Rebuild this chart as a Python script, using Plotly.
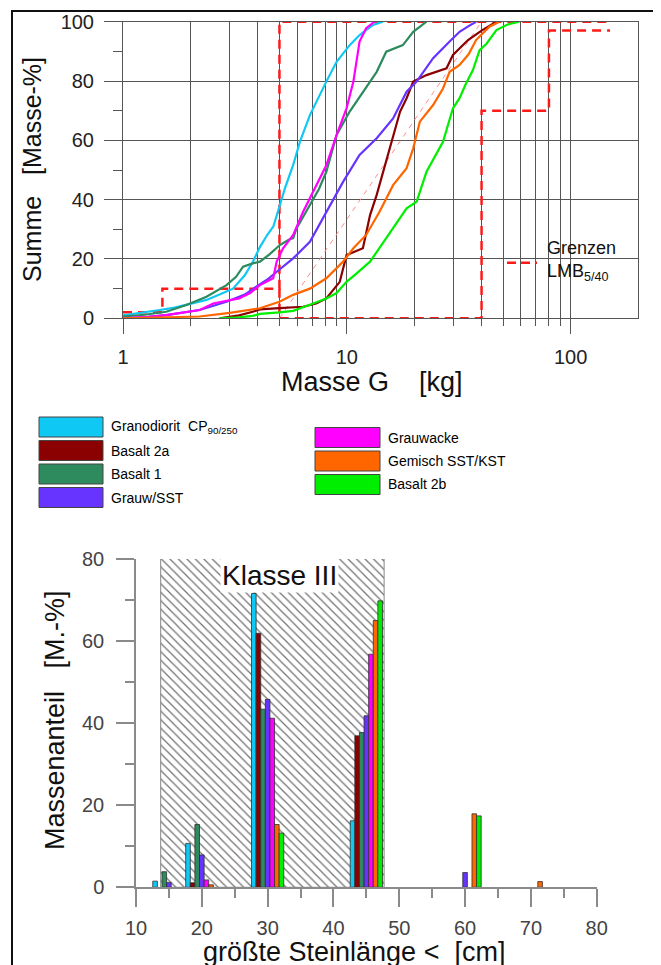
import numpy as np
import plotly.graph_objects as go

W, H = 661, 965
OFF = 8  # page body margin offset compensation
FONT = "Liberation Sans, Arial, sans-serif"
NARROW = "Liberation Sans Narrow, Arial Narrow, Liberation Sans, sans-serif"

# ---------------- data ----------------
SERIES = ["Granodiorit  CP<sub>90/250</sub>", "Basalt 2a", "Basalt 1", "Grauw/SST",
          "Grauwacke", "Gemisch SST/KST", "Basalt 2b"]
COLORS = ["#10C8F4", "#8B0000", "#2E8B5E", "#6633FF", "#FF00FF", "#FF6600", "#00EE00"]

# cumulative mass curves (top chart): mass G [kg] vs. Summe [Masse-%]
GRANODIORIT_X = [1.0, 1.2, 1.46, 1.7, 1.92, 2.36, 2.7, 3.1, 3.5, 3.8, 4.09, 4.4, 4.7, 5.02, 5.3,
                 5.76, 6.17, 6.84, 7.4, 8.1, 9.0, 10.3, 11.4, 13.1, 14.5]
GRANODIORIT_Y = [1.0, 1.8, 2.8, 3.6, 4.5, 6.2, 8.0, 10.0, 14.5, 19.0, 24.0, 28.0, 31.0, 38.0, 44.0,
                 51.7, 59.5, 68.5, 74.0, 79.8, 86.5, 92.1, 95.5, 98.9, 100]
BASALT2A_X = [2.7, 3.3, 3.8, 4.09, 5.0, 6.38, 7.3, 8.1, 9.3, 9.97, 11.8, 12.7, 13.6, 15.0, 16.1,
              17.3, 18.5, 19.8, 22.7, 27.9, 29.8, 34.8, 40.0, 46.6]
BASALT2A_Y = [0, 1.0, 2.2, 3.0, 3.4, 3.9, 5.0, 6.7, 12.3, 21.3, 23.6, 34.8, 41.6, 52.8, 60.7,
              69.7, 74.2, 79.8, 82.0, 84.3, 88.8, 93.8, 97.0, 100]
BASALT1_X = [1.0, 1.25, 1.56, 1.92, 2.36, 2.9, 3.2, 3.44, 3.8, 4.09, 4.5, 5.02, 5.5, 5.76, 5.96,
             6.84, 7.5, 8.1, 9.0, 10.3, 11.8, 13.6, 15.0, 17.8, 19.8, 22.7]
BASALT1_Y = [0.6, 1.2, 2.2, 4.5, 7.3, 11.2, 14.0, 17.4, 18.5, 19.1, 21.5, 24.7, 26.5, 27.0, 30.3,
             38.2, 43.5, 49.4, 61.8, 69.7, 76.4, 83.1, 89.9, 92.1, 96.6, 100]
GRAUWSST_X = [1.0, 1.3, 1.56, 2.2, 2.9, 3.5, 3.94, 4.4, 4.86, 5.76, 6.84, 8.1, 9.62, 11.4, 13.6,
              16.1, 18.5, 20.5, 24.3, 28.8, 31.9, 35.0, 37.8]
GRAUWSST_Y = [0, 0.5, 1.1, 2.8, 5.6, 8.0, 10.7, 13.0, 15.7, 20.2, 25.8, 35.9, 46.0, 55.1, 60.7,
              67.4, 76.4, 79.8, 87.7, 93.3, 96.6, 98.5, 100]
GRAUWACKE_X = [1.0, 1.3, 1.56, 1.9, 2.2, 2.53, 2.9, 3.3, 3.7, 4.09, 4.69, 4.86, 5.19, 5.76, 6.38,
               7.33, 8.11, 9.0, 9.97, 10.7, 11.05, 11.4, 12.2, 13.3]
GRAUWACKE_Y = [0, 0.5, 1.1, 2.0, 2.8, 5.0, 5.8, 6.7, 8.5, 11.2, 13.5, 19.1, 23.6, 28.1, 35.9,
               44.9, 51.7, 61.8, 70.8, 79.8, 86.5, 93.3, 97.8, 100]
GEMISCH_X = [1.0, 1.5, 2.2, 3.0, 3.8, 4.09, 5.0, 5.76, 6.84, 8.1, 9.62, 10.7, 12.2, 14.0, 16.1,
             18.5, 19.8, 21.2, 24.3, 26.9, 28.8, 31.9, 35.0, 37.8, 43.4, 48.0]
GEMISCH_Y = [0, 0.2, 0.6, 1.8, 3.0, 3.4, 5.6, 7.9, 10.0, 13.5, 19.1, 23.6, 28.1, 35.9, 44.9,
             50.6, 57.3, 66.3, 71.9, 77.5, 83.1, 85.4, 89.0, 93.8, 98.3, 100]
BASALT2B_X = [2.7, 3.3, 3.8, 4.09, 5.0, 5.76, 6.84, 8.1, 9.0, 9.97, 11.0, 12.7, 15.0, 18.5, 20.5,
              22.7, 26.9, 29.8, 31.9, 34.0, 36.6, 39.2, 42.0, 46.6, 52.0, 59.0]
BASALT2B_Y = [0, 0.3, 0.8, 1.5, 2.0, 2.5, 4.6, 6.7, 8.5, 12.3, 15.0, 19.1, 27.0, 37.1, 39.3,
              49.4, 59.5, 70.8, 74.2, 79.0, 83.7, 90.4, 92.5, 97.2, 99.0, 100]

CURVES_X = [GRANODIORIT_X, BASALT2A_X, BASALT1_X, GRAUWSST_X, GRAUWACKE_X, GEMISCH_X, BASALT2B_X]
CURVES_Y = [GRANODIORIT_Y, BASALT2A_Y, BASALT1_Y, GRAUWSST_Y, GRAUWACKE_Y, GEMISCH_Y, BASALT2B_Y]

# LMB 5/40 limits
LIMIT_UPPER_X = [1, 1.5, 1.5, 5, 5, 150]
LIMIT_UPPER_Y = [2, 2, 10, 10, 100, 100]
LIMIT_LOWER_X = [5, 5, 40, 40, 80, 80, 150]
LIMIT_LOWER_Y = [10, 0, 0, 70, 70, 97, 97]
LIMIT_BASE_X = [1, 1.5]
LIMIT_BASE_Y = [0, 0]
DIAG_X = [5, 40]
DIAG_Y = [0, 100]

# bar chart: größte Steinlänge < [cm] vs. Massenanteil [M.-%]
GROUP_X = [15, 20, 30, 45, 60, 70]
BAR_GRANODIORIT = [1.5, 10.7, 71.6, 16.2, None, None]
BAR_BASALT2A = [None, 1.1, 61.9, 36.9, None, None]
BAR_BASALT1 = [3.8, 15.3, 43.4, 37.7, None, None]
BAR_GRAUWSST = [1.2, 7.9, 45.8, 41.8, 3.6, None]
BAR_GRAUWACKE = [None, 1.8, 41.2, 56.8, None, None]
BAR_GEMISCH = [None, 0.6, 15.3, 65.0, 17.9, 1.4]
BAR_BASALT2B = [None, None, 13.2, 69.8, 17.4, None]
BARS = [BAR_GRANODIORIT, BAR_BASALT2A, BAR_BASALT1, BAR_GRAUWSST, BAR_GRAUWACKE, BAR_GEMISCH, BAR_BASALT2B]

KLASSE_RANGE = [13.75, 47.7]
KLASSE_TOP = 80.8
KLASSE_LABEL = "Klasse III"


def px(x):
    return (x - OFF) / W


def py(y):
    return 1 - (y - OFF) / H


fig = go.Figure()

# ---------------- top chart ----------------
red = dict(color="#FF1A1A", width=2.5, dash="9px,6px")
fig.add_trace(go.Scatter(x=DIAG_X, y=DIAG_Y, mode="lines", cliponaxis=False,
                         line=dict(color="#FF8C8C", width=1, dash="5px,5px"), xaxis="x", yaxis="y"))
for lx, ly in [(LIMIT_UPPER_X, LIMIT_UPPER_Y), (LIMIT_LOWER_X, LIMIT_LOWER_Y), (LIMIT_BASE_X, LIMIT_BASE_Y)]:
    fig.add_trace(go.Scatter(x=lx, y=ly, mode="lines", line=red, cliponaxis=False, xaxis="x", yaxis="y"))
for cx, cy, col in zip(CURVES_X, CURVES_Y, COLORS):
    fig.add_trace(go.Scatter(x=cx, y=cy, mode="lines", cliponaxis=False,
                             line=dict(color=col, width=2.2), xaxis="x", yaxis="y"))

# ---------------- bottom chart ----------------
fig.add_trace(go.Bar(x=[(KLASSE_RANGE[0] + KLASSE_RANGE[1]) / 2], y=[KLASSE_TOP],
                     width=[KLASSE_RANGE[1] - KLASSE_RANGE[0]],
                     marker=dict(color="white",
                                 pattern=dict(shape="\\", fgcolor="#707070", bgcolor="white",
                                              size=6, solidity=0.2),
                                 line=dict(color="#888888", width=1)),
                     xaxis="x2", yaxis="y2"))
BW = 0.7
for i, (vals, col) in enumerate(zip(BARS, COLORS)):
    fig.add_trace(go.Bar(x=GROUP_X, y=vals, width=BW, offset=(i - 3.5) * BW,
                         marker=dict(color=col, line=dict(color="#303030", width=0.8)),
                         xaxis="x2", yaxis="y2"))

GRID = "#555555"
AX2 = "#8a8a8a"
minor_log = [m * 10 ** d for d in (0, 1) for m in range(2, 10)]

fig.update_layout(
    template="none",
    width=W, height=H, margin=dict(l=0, r=0, t=0, b=0, pad=0, autoexpand=False),
    paper_bgcolor="white", plot_bgcolor="rgba(0,0,0,0)",
    showlegend=False, barmode="overlay",
    font=dict(family=FONT, color="#222"),
    xaxis=dict(type="log", domain=[px(123), px(638)], range=[0, np.log10(200)], anchor="y",
               automargin=False,
               tickvals=[1, 10, 100], ticktext=["1", "10", "100"],
               ticks="outside", ticklen=15, tickcolor=GRID, tickwidth=1,
               showgrid=True, gridcolor=GRID, gridwidth=1,
               minor=dict(tickmode="array", tickvals=minor_log, ticks="outside", ticklen=7,
                          tickcolor=GRID, showgrid=True, gridcolor=GRID, gridwidth=1),
               showline=True, mirror=True, linecolor=GRID, linewidth=1, zeroline=False,
               tickfont=dict(size=20, color="#222"), ticklabelstandoff=6),
    yaxis=dict(domain=[py(318.3), py(21.7)], range=[0, 100], anchor="x",
               automargin=False,
               tick0=0, dtick=20, ticks="outside", ticklen=18, tickcolor=GRID,
               showgrid=True, gridcolor=GRID, gridwidth=1,
               minor=dict(dtick=10, ticks="outside", ticklen=9, tickcolor=GRID, showgrid=False),
               showline=True, mirror=True, linecolor=GRID, linewidth=1, zeroline=False,
               tickfont=dict(size=20, color="#222"), ticklabelstandoff=6),
    xaxis2=dict(domain=[px(136), px(596.7)], range=[10, 80], anchor="y2",
                automargin=False,
                tick0=10, dtick=10, ticks="outside", ticklen=18, tickcolor=AX2, tickwidth=1.5,
                minor=dict(dtick=5, ticks="outside", ticklen=9, tickcolor=AX2, tickwidth=1.5),
                showgrid=False, showline=True, linecolor=AX2, linewidth=1.5, zeroline=False,
                tickfont=dict(size=20, color="#444"), ticklabelstandoff=4),
    yaxis2=dict(domain=[py(887.3), py(559)], range=[0, 80], anchor="x2",
                automargin=False,
                tick0=0, dtick=20, ticks="outside", ticklen=18, tickcolor=AX2, tickwidth=1.5,
                minor=dict(dtick=10, ticks="outside", ticklen=9, tickcolor=AX2, tickwidth=1.5),
                showgrid=False, showline=True, linecolor=AX2, linewidth=1.5, zeroline=False,
                tickfont=dict(size=20, color="#444"), ticklabelstandoff=8),
)

shapes = []
annotations = []

# outer frame
shapes.append(dict(type="rect", xref="paper", yref="paper", x0=px(12), x1=px(654),
                   y0=py(1000), y1=py(11), line=dict(color="#111", width=2), layer="above"))

# top legend box "Grenzen LMB5/40"
shapes.append(dict(type="rect", xref="paper", yref="paper", x0=px(500), x1=px(626),
                   y0=py(295), y1=py(233), fillcolor="white", line=dict(width=0), layer="between"))
shapes.append(dict(type="line", xref="paper", yref="paper", x0=px(507), x1=px(537),
                   y0=py(262.7), y1=py(262.7), line=dict(color="#FF1A1A", width=2.5, dash="9px,5px"),
                   layer="above"))
annotations.append(dict(xref="paper", yref="paper", x=px(545), y=py(261), xanchor="left",
                        yanchor="middle", align="left", showarrow=False,
                        text="Grenzen<br>LMB<sub>5/40</sub>", font=dict(size=18, color="#111")))

# axis titles
NB = "\u00a0"
annotations += [
    dict(xref="paper", yref="paper", x=px(32), y=py(170), text="Summe" + NB * 3 + "[Masse-%]",
         textangle=-90, showarrow=False, font=dict(size=25, color="#111"),
         xanchor="center", yanchor="middle"),
    dict(xref="paper", yref="paper", x=px(372), y=py(382), text="Masse" + NB + "G" + NB * 4 + "[kg]",
         showarrow=False, font=dict(size=27, color="#111"), xanchor="center", yanchor="middle"),
    dict(xref="paper", yref="paper", x=px(55), y=py(720), text="Massenanteil" + NB * 3 + "[M.-%]",
         textangle=-90, showarrow=False, font=dict(size=27, color="#111"),
         xanchor="center", yanchor="middle"),
    dict(xref="paper", yref="paper", x=px(354), y=py(952),
         text="größte" + NB + "Steinlänge" + NB + "&lt;" + NB * 2 + "[cm]",
         showarrow=False, font=dict(size=27, color="#111"), xanchor="center", yanchor="middle"),
    dict(xref="paper", yref="paper", x=px(279), y=py(575), text=KLASSE_LABEL, showarrow=False,
         font=dict(size=28, color="#111"), bgcolor="white", borderpad=1,
         xanchor="center", yanchor="middle"),
]

# bar legend (two columns)
left_rows = [0, 1, 2, 3]
right_rows = [4, 5, 6]
for k, idx in enumerate(left_rows):
    cy = 427 + 23.5 * k
    shapes.append(dict(type="rect", xref="paper", yref="paper", x0=px(39), x1=px(103),
                       y0=py(cy + 10), y1=py(cy - 10), fillcolor=COLORS[idx],
                       line=dict(color="#444", width=1), layer="above"))
    annotations.append(dict(xref="paper", yref="paper", x=px(109), y=py(cy), xanchor="left",
                            yanchor="middle", showarrow=False, text=SERIES[idx],
                            font=dict(family=NARROW, size=14, color="#000")))
for k, idx in enumerate(right_rows):
    cy = 437.5 + 23.5 * k
    shapes.append(dict(type="rect", xref="paper", yref="paper", x0=px(315), x1=px(380),
                       y0=py(cy + 10), y1=py(cy - 10), fillcolor=COLORS[idx],
                       line=dict(color="#444", width=1), layer="above"))
    annotations.append(dict(xref="paper", yref="paper", x=px(386), y=py(cy), xanchor="left",
                            yanchor="middle", showarrow=False, text=SERIES[idx],
                            font=dict(family=NARROW, size=14, color="#000")))

fig.update_layout(shapes=shapes, annotations=annotations)
fig.write_html("out.html")
